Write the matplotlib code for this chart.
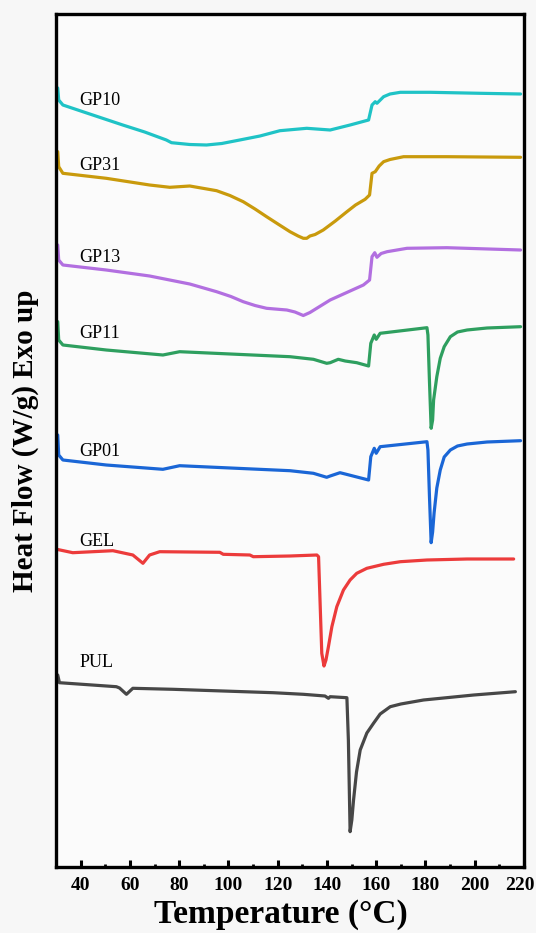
import matplotlib
matplotlib.use("Agg")
import matplotlib.pyplot as plt
from matplotlib.ticker import MultipleLocator, NullLocator
from matplotlib.transforms import ScaledTranslation

# DSC traces (temperature in °C, stacked heat flow in plot units,
# axis is drawn inverted so larger numbers sit lower on the page)
gp10_t = [30.7, 31.1, 32.8, 40.9, 57.1, 66.0, 74.8, 76.9, 84.3, 91.1, 97.3, 104.6, 112.8,
          120.9, 131.8, 141.3, 149.4, 156.9, 158.3, 159.6, 160.3, 163.0, 165.6, 169.8,
          182.0, 202.3, 218.6]
gp10_hf = [88, 100, 105, 111.7, 125, 132, 140, 142.7, 144.5, 145, 143.5, 140, 136,
           130.7, 128.3, 130, 125, 120, 105, 101.7, 103.3, 96.7, 94, 92.3,
           92.3, 93.3, 94]

gp31_t = [30.7, 31.1, 32.8, 50.4, 68.0, 76.2, 84.3, 95.2, 100.6, 106.0, 110.8, 115.5,
          120.1, 125.0, 128.3, 130.4, 131.8, 133.1, 135.2, 138.5, 143.4, 148.1, 151.6,
          155.5, 157.3, 158.3, 159.6, 161.2, 163.0, 165.6, 171.1, 188.7, 218.6]
gp31_hf = [151.7, 166.7, 173.3, 178.3, 185, 187.3, 186, 190.7, 195.5, 201.7, 209, 216.7,
           224, 231.7, 236, 238.3, 238.3, 236, 234.5, 230, 221, 211.7, 205,
           199.3, 195, 173.3, 171.7, 166, 161.7, 159.5, 156.7, 156.7, 157.3]

gp13_t = [30.7, 31.1, 32.8, 50.4, 68.0, 84.3, 95.2, 101.0, 106.0, 110.8, 115.5, 123.7,
          127.0, 130.4, 133.1, 141.3, 154.8, 157.3, 158.3, 159.4, 160.3, 162.0, 164.4,
          172.5, 188.7, 218.6]
gp13_hf = [245, 260, 265, 270, 276, 284, 291.7, 296.5, 301.7, 305.5, 308.3, 310,
           312, 315.5, 312.5, 300, 285, 280, 256.7, 252.7, 257.3, 253.5, 251.7,
           248.3, 247.7, 250]

gp11_t = [30.7, 31.1, 32.8, 50.4, 73.4, 80.2, 125.0, 134.5, 139.9, 141.3, 144.6, 147.4,
          152.1, 156.9, 157.8, 159.2, 160.0, 161.6, 180.6, 181.0, 181.6, 182.3, 182.9,
          183.3, 184.6, 186.0, 187.6, 190.1, 193.0, 196.9, 205.0, 218.6]
gp11_hf = [321.7, 340, 345, 350, 355, 351.7, 356.7, 359.3, 363.3, 362.7, 359.3, 361,
           362.7, 366, 343.3, 335, 339.3, 333.3, 327.7, 335, 380, 428.3, 420,
           400, 376.7, 358.3, 346.7, 336.7, 332, 330, 328, 326.7]

gp01_t = [30.7, 31.1, 32.8, 50.4, 73.4, 80.2, 125.0, 134.5, 139.9, 141.3, 145.3, 147.4,
          156.9, 157.8, 159.2, 160.0, 161.6, 180.6, 181.0, 181.6, 182.3, 182.9,
          183.5, 184.6, 186.0, 187.6, 190.1, 193.0, 196.9, 205.0, 218.6]
gp01_hf = [435, 455, 460, 465, 469.3, 465.7, 470.7, 473.3, 477.3, 476, 472.7, 474,
           480, 456.7, 448.3, 453.3, 446.7, 441.7, 450, 495, 542.7, 532,
           513, 488, 470, 457, 450, 446, 444, 442, 440.7]

gel_t = [30.3, 36.8, 53.1, 61.2, 65.3, 68.0, 72.1, 96.5, 97.9, 108.7, 110.1, 125.0,
         135.9, 136.6, 137.9, 138.8, 139.6, 140.6, 142.0, 144.0, 146.7, 149.4, 152.1,
         156.2, 163.0, 169.8, 180.6, 196.9, 215.8]
gel_hf = [549.3, 552.7, 550.7, 555, 563.3, 555, 551.7, 552.3, 554.3, 555, 556.7, 556,
          555, 556.7, 653.3, 666, 660, 646.7, 626.7, 606.7, 590, 580, 573.3,
          568.3, 564.3, 561.7, 560, 559, 559]

pul_t = [30.7, 31.4, 54.5, 55.8, 58.6, 61.2, 77.5, 118.2, 130.4, 139.2, 140.6, 141.3,
         148.1, 148.7, 149.4, 150.1, 150.8, 152.0, 153.5, 156.2, 158.9, 161.6, 165.7,
         170.0, 179.2, 199.6, 216.5]
pul_hf = [675, 682.7, 686.7, 688, 694.3, 688.3, 689.3, 692.7, 694.3, 696, 698.3, 696.7,
          697.7, 740, 831.7, 820, 800, 772, 750, 733, 723.3, 714, 706.7,
          704, 700, 695, 691.7]

names = ["GP10", "GP31", "GP13", "GP11", "GP01", "GEL", "PUL"]
colors = ["#1fc3c6", "#c99a0c", "#b26fe0", "#2e9f5f", "#1a66d6", "#ec3b3b", "#474747"]
label_y = [100.7, 165, 257.3, 333.3, 451.7, 541.7, 662.3]
xticks = [40, 60, 80, 100, 120, 140, 160, 180, 200, 220]

curves = [(gp10_t, gp10_hf), (gp31_t, gp31_hf), (gp13_t, gp13_hf), (gp11_t, gp11_hf),
          (gp01_t, gp01_hf), (gel_t, gel_hf), (pul_t, pul_hf)]

serif = "Liberation Serif"

fig = plt.figure(figsize=(5.36, 9.33), dpi=100, facecolor="#f7f7f7")
ax = fig.add_axes([56 / 536, 66 / 933, 468 / 536, 853 / 933])
ax.set_facecolor("#fbfbfb")

for (t, hf), c in zip(curves, colors):
    ax.plot(t, hf, color=c, lw=2.3, solid_joinstyle="round", solid_capstyle="round")

for name, ly in zip(names, label_y):
    ax.text(39.6, ly, name, family=serif, fontsize=13, ha="left", va="center")

ax.set_xlim(30, 220)
ax.set_ylim(867, 14)

ax.xaxis.set_minor_locator(MultipleLocator(10))
ax.yaxis.set_major_locator(NullLocator())
ax.set_xticks(xticks)
ax.tick_params(axis="x", which="major", direction="in", length=5, width=2.2, pad=7,
               top=False)
ax.tick_params(axis="x", which="minor", direction="in", length=2.5, width=2, top=False)
for lab in ax.get_xticklabels():
    lab.set_family(serif)
    lab.set_fontweight("bold")
    lab.set_fontsize(14)
# last label sits against the right edge, pull it in like the original
last = ax.get_xticklabels()[-1]
last.set_horizontalalignment("right")
last.set_transform(last.get_transform() + ScaledTranslation(11 / 100, 0, fig.dpi_scale_trans))

for s in ax.spines.values():
    s.set_linewidth(2.4)

ax.set_xlabel("Temperature (°C)", family=serif, fontweight="bold", fontsize=24,
              labelpad=4)
ax.xaxis.set_label_coords(0.481, -0.038)
ax.xaxis.label.set_va("top")
ax.set_ylabel("Heat Flow (W/g) Exo up", family=serif, fontweight="bold", fontsize=21,
              labelpad=12)

fig.savefig("out.png", dpi=100, facecolor=fig.get_facecolor())
